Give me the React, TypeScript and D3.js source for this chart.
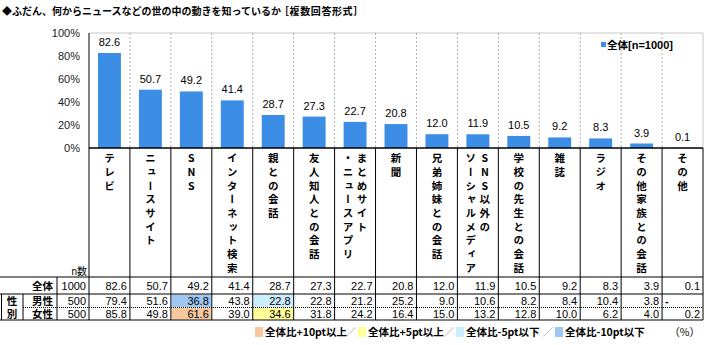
import React from 'react';
import * as d3 from 'd3';

const categories = [
  'テレビ', 'ニュースサイト', 'SNS', 'インターネット検索', '親との会話', '友人知人との会話',
  'まとめサイト・ニュースアプリ', '新聞', '兄弟姉妹との会話', 'SNS以外のソーシャルメディア',
  '学校の先生との会話', '雑誌', 'ラジオ', 'その他家族との会話', 'その他',
];
// label columns, right column first (vertical writing)
const labelColumns = [
  ['テレビ'], ['ニュースサイト'], ['SNS'], ['インターネット検索'], ['親との会話'], ['友人知人との会話'],
  ['まとめサイト', '・ニュースアプリ'], ['新聞'], ['兄弟姉妹との会話'], ['SNS以外の', 'ソーシャルメディア'],
  ['学校の先生との会話'], ['雑誌'], ['ラジオ'], ['その他家族との会話'], ['その他'],
];
const totalValues = [82.6, 50.7, 49.2, 41.4, 28.7, 27.3, 22.7, 20.8, 12.0, 11.9, 10.5, 9.2, 8.3, 3.9, 0.1];
const maleValues: (number | null)[] = [79.4, 51.6, 36.8, 43.8, 22.8, 22.8, 21.2, 25.2, 9.0, 10.6, 8.2, 8.4, 10.4, 3.8, null];
const femaleValues = [85.8, 49.8, 61.6, 39.0, 34.6, 31.8, 24.2, 16.4, 15.0, 13.2, 12.8, 10.0, 6.2, 4.0, 0.2];
const rowNames = ['全体', '男性', '女性'];
const rowN = [1000, 500, 500];
const groupLabel = ['性', '別'];
const yTicks = [0, 20, 40, 60, 80, 100];
const legendLabels = ['全体比+10pt以上', '全体比+5pt以上', '全体比-5pt以下', '全体比-10pt以下'];
const seriesName = '全体';
const seriesNote = '[n=1000]';
const title = '◆ふだん、何からニュースなどの世の中の動きを知っているか';
const titleNote = '［複数回答形式］';

const LATIN = "'Liberation Sans', Arial, 'Noto Sans CJK JP', sans-serif";
const JP = "'Noto Sans CJK JP', sans-serif";
const BAR = '#3b8de6';
const C_PLUS10 = '#f8c89e';
const C_PLUS5 = '#ffff99';
const C_MINUS5 = '#ccefff';
const C_MINUS10 = '#9ec8f2';
const legendColors = [C_PLUS10, C_PLUS5, C_MINUS5, C_MINUS10];

function cellColor(v: number | null, base: number): string | null {
  if (v == null) return null;
  const d = v - base;
  if (d >= 10) return C_PLUS10;
  if (d >= 5) return C_PLUS5;
  if (d <= -10) return C_MINUS10;
  if (d <= -5) return C_MINUS5;
  return null;
}

export default function App() {
  const W = 708, H = 345;
  const left = 89, right = 703, top = 33, bottom = 148;
  const labelBottom = 277;
  const rowLines = [277, 294, 307.5, 320];
  const x = d3.scaleBand<string>().domain(categories).range([left, right]);
  const y = d3.scaleLinear().domain([0, 100]).range([bottom, top]);
  const bw = x.bandwidth();
  const barW = bw * 0.56;
  const bounds = categories.map((c) => x(c)!).concat([right]);
  const rows = [totalValues, maleValues, femaleValues];

  return (
    <svg width={W} height={H} style={{ position: 'absolute', left: 0, top: 0, background: '#fff' }}>
      <rect x={0} y={0} width={W} height={H} fill="#fff" />
      {/* title */}
      <text x={2} y={15} fontFamily={JP} fontSize={10} fontWeight="bold" fill="#000">{title}</text>
      <text x={279} y={15} fontFamily={JP} fontSize={10} fontWeight="bold" fill="#000" letterSpacing={0.6}>{titleNote}</text>

      {/* plot frame */}
      <line x1={left} x2={right} y1={top} y2={top} stroke="#c8c8c8" />
      <line x1={right} x2={right} y1={top} y2={bottom} stroke="#c8c8c8" />
      {bounds.slice(1, -1).map((bx, i) => (
        <line key={'g' + i} x1={bx} x2={bx} y1={top} y2={bottom} stroke="#b0b0b0" strokeDasharray="2,2" />
      ))}
      {yTicks.map((t) => (
        <text key={'yt' + t} x={80} y={y(t) + 4} textAnchor="end" fontFamily={LATIN} fontSize={11} fill="#222">{t}%</text>
      ))}

      {/* bars */}
      {categories.map((c, i) => (
        <rect key={'b' + i} x={x(c)! + (bw - barW) / 2} y={y(totalValues[i])} width={barW}
          height={bottom - y(totalValues[i])} fill={BAR} />
      ))}
      {categories.map((c, i) => (
        <text key={'bl' + i} x={x(c)! + bw / 2} y={y(totalValues[i]) - 7} textAnchor="middle"
          fontFamily={LATIN} fontSize={11} fill="#000">{totalValues[i].toFixed(1)}</text>
      ))}
      <line x1={left} x2={left} y1={top} y2={bottom} stroke="#000" />

      {/* series legend */}
      <rect x={601} y={42} width={5} height={5} fill={BAR} />
      <text x={607} y={48.5} fontFamily={JP} fontSize={10.5} fontWeight="bold" fill="#000">
        {seriesName}<tspan fontFamily={LATIN} fontSize={11}>{seriesNote}</tspan>
      </text>

      {/* category label area */}
      {labelColumns.map((cols, i) => {
        const cx = x(categories[i])! + bw / 2;
        const n = cols.length;
        return cols.map((s, j) => {
          const off = n === 1 ? 0 : (j === 0 ? 7 : -7);
          return (
            <text key={'cl' + i + '-' + j} x={cx + off} y={153} fontFamily={JP} fontSize={10.5}
              fontWeight="bold" fill="#000" letterSpacing={3.2}
              style={{ writingMode: 'vertical-rl', textOrientation: 'upright' } as any}>{s}</text>
          );
        });
      })}
      <text x={87} y={275} textAnchor="end" fontFamily={LATIN} fontSize={10} fill="#000">n数</text>

      {/* table fills */}
      {[1, 2].map((r) =>
        categories.map((c, i) => {
          const col = cellColor(rows[r][i] as number | null, totalValues[i]);
          if (!col) return null;
          return (
            <rect key={'f' + r + '-' + i} x={x(c)! + 0.5} y={rowLines[r] + 0.5} width={bw - 1}
              height={rowLines[r + 1] - rowLines[r] - 1} fill={col} />
          );
        })
      )}

      {/* table text */}
      {rows.map((vals, r) => {
        const cy = (rowLines[r] + rowLines[r + 1]) / 2 + 4;
        return (
          <g key={'row' + r}>
            <text x={53} y={cy} textAnchor="end" fontFamily={LATIN} fontSize={10.5} fontWeight="bold" fill="#000">{rowNames[r]}</text>
            <text x={86} y={cy} textAnchor="end" fontFamily={LATIN} fontSize={11} fill="#000">{rowN[r]}</text>
            {vals.map((v, i) => {
              const cl = x(categories[i])!;
              if (v == null) {
                return <text key={'v' + i} x={cl + 3} y={cy} fontFamily={LATIN} fontSize={11} fontWeight="bold" fill="#000">-</text>;
              }
              return <text key={'v' + i} x={cl + bw - 3} y={cy} textAnchor="end" fontFamily={LATIN} fontSize={11} fill="#000">{(v as number).toFixed(1)}</text>;
            })}
          </g>
        );
      })}
      {groupLabel.map((g, k) => (
        <text key={'gl' + k} x={12} y={(rowLines[k + 1] + rowLines[k + 2]) / 2 + 4} textAnchor="middle"
          fontFamily={LATIN} fontSize={10.5} fontWeight="bold" fill="#000">{g}</text>
      ))}

      {/* grid lines of label area + table */}
      <line x1={left} x2={right} y1={bottom} y2={bottom} stroke="#000" strokeWidth={1.5} />
      {bounds.map((bx, i) => (
        <line key={'v' + i} x1={bx} x2={bx} y1={bottom} y2={rowLines[3]} stroke="#000" />
      ))}
      <line x1={57} x2={57} y1={rowLines[0]} y2={rowLines[3]} stroke="#000" />
      <line x1={23} x2={23} y1={rowLines[1]} y2={rowLines[3]} stroke="#000" />
      <line x1={1.5} x2={1.5} y1={rowLines[1]} y2={rowLines[3]} stroke="#000" />
      <line x1={0} x2={right} y1={labelBottom} y2={labelBottom} stroke="#000" strokeWidth={1.2} />
      <line x1={0} x2={right} y1={rowLines[1]} y2={rowLines[1]} stroke="#000" />
      <line x1={23} x2={right} y1={rowLines[2]} y2={rowLines[2]} stroke="#000" strokeDasharray="1,1" />
      <line x1={0} x2={right} y1={rowLines[3]} y2={rowLines[3]} stroke="#000" />

      {/* highlight legend */}
      {legendLabels.map((l, k) => {
        const sx = [255, 358, 456, 555][k];
        return (
          <g key={'lg' + k}>
            {k > 0 && <text x={sx - 7} y={336} fontFamily={JP} fontSize={10.5} fill="#888" textAnchor="middle">／</text>}
            <rect x={sx} y={327} width={8} height={10} fill={legendColors[k]} />
            <text x={sx + 10} y={336} fontFamily={JP} fontSize={10.5} fontWeight="bold" fill="#000">{l}</text>
          </g>
        );
      })}
      <text x={700} y={336} textAnchor="end" fontFamily={JP} fontSize={10.5} fill="#000">（%）</text>
    </svg>
  );
}
